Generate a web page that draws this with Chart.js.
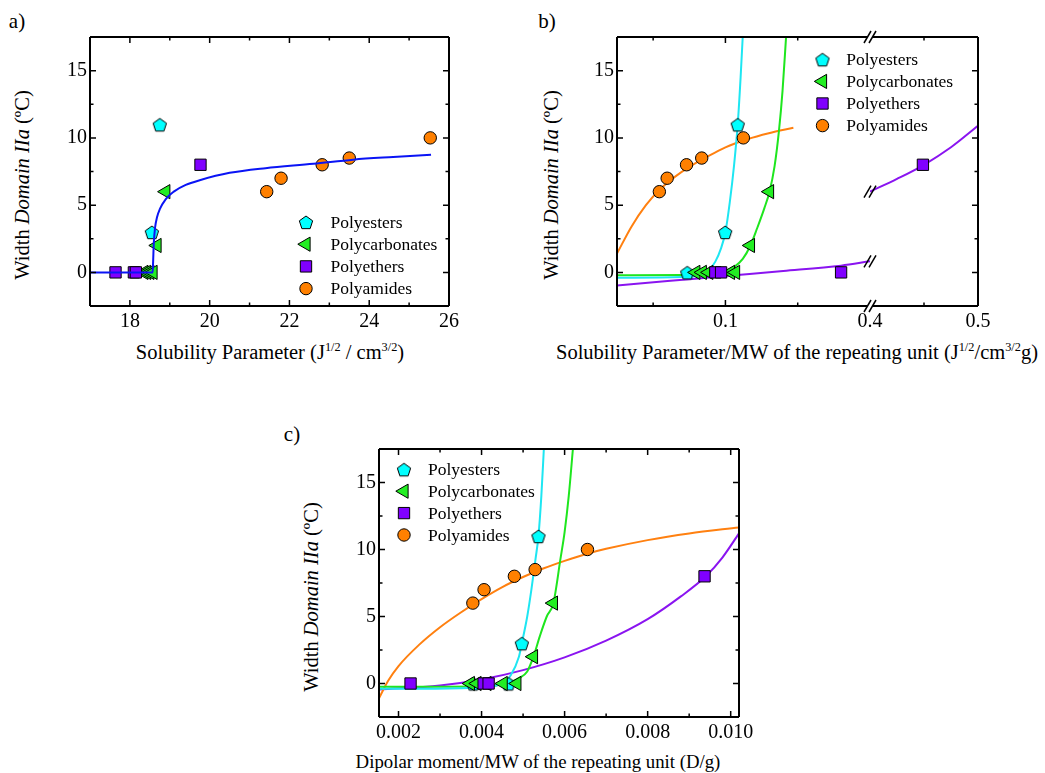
<!DOCTYPE html>
<html>
<head>
<meta charset="utf-8">
<script src="https://cdn.jsdelivr.net/npm/chart.js@4.4.0/dist/chart.umd.min.js"></script>
<style>
  body { margin: 0; background: #fff; width: 1045px; height: 773px; position: relative; overflow: hidden;
         font-family: "Liberation Serif", "Times New Roman", serif; color: #000; }
  canvas { position: absolute; }
  .txt { position: absolute; white-space: nowrap; line-height: 1; font-size: 20.5px; }
  .ytitle { transform: translate(-50%, -50%) rotate(-90deg); }
  .xtitle { transform: translate(-50%, -50%); }
  .plabel { font-size: 21px; transform: translate(-50%, -50%); }
  sup { font-size: 0.6em; vertical-align: 0.6em; line-height: 0; }
</style>
</head>
<body>
<div class="txt plabel" style="left:17px;top:21px">a)</div>
<div class="txt plabel" style="left:547px;top:21px">b)</div>
<div class="txt plabel" style="left:292px;top:434px">c)</div>

<div class="txt ytitle" style="left:22px;top:185px">Width <i>Domain IIa</i> (ºC)</div>
<div class="txt ytitle" style="left:551px;top:185px">Width <i>Domain IIa</i> (ºC)</div>
<div class="txt ytitle" style="left:311px;top:597px">Width <i>Domain IIa</i> (ºC)</div>

<div class="txt xtitle" style="left:270px;top:352px">Solubility Parameter (J<sup>1/2</sup> / cm<sup>3/2</sup>)</div>
<div class="txt xtitle" style="left:797px;top:352px">Solubility Parameter/MW of the repeating unit (J<sup>1/2</sup>/cm<sup>3/2</sup>g)</div>
<div class="txt xtitle" style="left:538px;top:762px;font-size:18.8px">Dipolar moment/MW of the repeating unit (D/g)</div>

<canvas id="chartA" width="480" height="390" style="left:0px;top:0px"></canvas>
<canvas id="chartB" width="515" height="390" style="left:530px;top:0px"></canvas>
<canvas id="chartC" width="480" height="363" style="left:280px;top:410px"></canvas>

<script>
// ---- panel a: width of domain IIa vs solubility parameter ----
const aPolyesters     = [[18.55, 3], [18.75, 11]];
const aPolycarbonates = [[18.35, 0], [18.42, 0], [18.5, 0], [18.58, 0], [18.68, 2], [18.9, 6]];
const aPolyethers     = [[17.64, 0], [18.1, 0], [18.15, 0], [19.77, 8]];
const aPolyamides     = [[21.43, 6], [21.79, 7], [22.82, 8], [23.5, 8.5], [25.53, 10]];
const aFit = [[17, 0], [18.57, 0], [18.58, 0.6], [18.6, 2.2], [18.63, 3.3], [18.68, 4.1], [18.75, 4.7],
              [18.9, 5.45], [19.1, 6.0], [19.4, 6.5], [19.75, 6.85], [20.5, 7.4], [21.4, 7.75],
              [22.6, 8.07], [23.6, 8.38], [24.6, 8.58], [25.55, 8.75]];

// ---- panel b: vs solubility parameter / MW (broken axis) ----
const bPolyesters     = [[0.0736, 0], [0.0998, 3], [0.1085, 11]];
const bPolycarbonates = [[0.0795, 0], [0.084, 0], [0.0885, 0], [0.1035, 0], [0.107, 0], [0.1173, 2], [0.1305, 6]];
const bPolyethers     = [[0.093, 0], [0.097, 0], [0.18, 0]];
const bPolyethersHigh = [[0.449, 8]];
const bPolyamides     = [[0.0543, 6], [0.0597, 7], [0.0731, 8], [0.0836, 8.5], [0.1124, 10]];
const bPolyesterFit = [[0.025, -0.4], [0.07, -0.35], [0.08, -0.25], [0.088, 0.1], [0.093, 0.8], [0.097, 1.8],
                       [0.1, 3.0], [0.103, 5.2], [0.106, 8.0], [0.1085, 11], [0.1105, 14.5], [0.112, 17.6]];
const bPolycarbonateFit = [[0.025, -0.22], [0.07, -0.2], [0.09, -0.1], [0.1, 0.1], [0.106, 0.4], [0.112, 1.0],
                           [0.1173, 2.0], [0.122, 3.3], [0.127, 4.8], [0.1305, 6], [0.134, 7.9], [0.137, 10.5],
                           [0.1395, 13.5], [0.142, 17.6]];
const bPolyamideFit = [[0.025, 1.4], [0.035, 3.4], [0.045, 5.0], [0.055, 6.2], [0.065, 7.1], [0.075, 7.85],
                       [0.085, 8.45], [0.1, 9.3], [0.115, 9.9], [0.13, 10.35], [0.147, 10.75]];
const bPolyetherFit = [[0.025, -0.97], [0.06, -0.65], [0.1, -0.27], [0.14, 0.1], [0.18, 0.5], [0.2, 0.82]];
const bPolyetherFitHigh = [[0.4, 6.0], [0.425, 6.95], [0.45, 8.0], [0.475, 9.3], [0.5, 10.9]];

// ---- panel c: vs dipolar moment / MW ----
const cPolyesters     = [[0.0038, 0], [0.00465, 0], [0.00497, 3], [0.00537, 11]];
const cPolycarbonates = [[0.00373, 0], [0.00389, 0], [0.00413, 0], [0.00452, 0], [0.00485, 0], [0.00525, 2], [0.00573, 6]];
const cPolyethers     = [[0.00229, 0], [0.00405, 0], [0.00417, 0], [0.00937, 8]];
const cPolyamides     = [[0.00379, 6], [0.00406, 7], [0.00479, 8], [0.00529, 8.5], [0.00655, 10]];
const cPolyesterFit = [[0.00153, -0.4], [0.0035, -0.35], [0.0042, -0.2], [0.0045, 0.0], [0.0047, 0.6], [0.0049, 2.0],
                       [0.00497, 3.0], [0.0051, 5.0], [0.0052, 7.0], [0.0053, 9.3], [0.00537, 11], [0.00544, 14], [0.0055, 17.5]];
const cPolycarbonateFit = [[0.00153, -0.25], [0.004, -0.2], [0.0046, 0.0], [0.0049, 0.4], [0.0051, 0.9], [0.00525, 2.0],
                           [0.0054, 3.5], [0.00557, 5.0], [0.00573, 6.0], [0.0059, 9.3], [0.006, 11.3], [0.0061, 14.0], [0.0062, 17.5]];
const cPolyamideFit = [[0.00153, -1.1], [0.00175, 0.2], [0.002, 1.3], [0.0025, 2.9], [0.003, 4.2], [0.0035, 5.3],
                       [0.004, 6.3], [0.0045, 7.2], [0.005, 7.95], [0.0055, 8.6], [0.006, 9.15], [0.0065, 9.65],
                       [0.007, 10.05], [0.008, 10.7], [0.009, 11.2], [0.0102, 11.65]];
const cPolyetherFit = [[0.00153, -0.45], [0.003, -0.15], [0.004, 0.3], [0.005, 1.0], [0.006, 1.95], [0.007, 3.2],
                       [0.008, 4.8], [0.0088, 6.5], [0.0094, 8.0], [0.0098, 9.4], [0.0102, 11.2]];

const FONT = '"Liberation Serif", "Times New Roman", serif';
Chart.defaults.font.family = FONT;
Chart.defaults.color = '#000';

const CYAN = '#00ffff', GREEN = '#22ee22', PURPLE = '#8000ff', ORANGE = '#ff8000';

function pentagon(r, fill) {
  const c = document.createElement('canvas');
  const s = Math.ceil(2 * r + 4);
  c.width = s; c.height = s;
  const g = c.getContext('2d');
  g.beginPath();
  for (let i = 0; i < 5; i++) {
    const a = -Math.PI / 2 + i * 2 * Math.PI / 5;
    const px = s / 2 + r * Math.cos(a), py = s / 2 + 1 + r * Math.sin(a);
    i ? g.lineTo(px, py) : g.moveTo(px, py);
  }
  g.closePath();
  g.fillStyle = fill; g.fill();
  g.lineWidth = 1; g.strokeStyle = '#000'; g.stroke();
  return c;
}

const MARK = {
  polyesters:     { style: pentagon(7, CYAN), fill: CYAN, r: 7, rot: 0, order: 4 },
  polycarbonates: { style: 'triangle', fill: GREEN, r: 8.2, rot: -90, order: 3 },
  polyethers:     { style: 'rect', fill: PURPLE, r: 8, rot: 0, order: 2 },
  polyamides:     { style: 'circle', fill: ORANGE, r: 6.2, rot: 0, order: 1 }
};

function pts(label, data, m, xAxisID) {
  return {
    label, xAxisID: xAxisID || 'x',
    data: data.map(([x, y]) => ({ x, y })),
    showLine: false, order: m.order,
    pointStyle: m.style, pointRadius: m.r, pointHoverRadius: m.r, pointRotation: m.rot,
    pointBackgroundColor: m.fill, pointBorderColor: '#000', pointBorderWidth: 1
  };
}

function curve(data, color, order, xAxisID) {
  return {
    label: '', xAxisID: xAxisID || 'x',
    data: data.map(([x, y]) => ({ x, y })),
    showLine: true, borderColor: color, borderWidth: 2, pointRadius: 0, pointHoverRadius: 0,
    cubicInterpolationMode: 'monotone', order
  };
}

function near(a, b) { return Math.abs(a - b) < 1e-9; }

function yScale(width) {
  return {
    type: 'linear', min: -2.5, max: 17.5,
    grid: { display: false, drawTicks: false }, border: { display: false },
    ticks: { stepSize: 2.5, includeBounds: false, autoSkip: false, maxTicksLimit: 100, padding: 3,
             font: { family: FONT, size: 20 }, color: '#000',
             callback: v => (near(v % 5, 0) ? String(v) : '') },
    afterFit: s => { s.width = width; }
  };
}

function xScale(min, max, step, label, height, extra) {
  return Object.assign({
    type: 'linear', position: 'bottom', min, max,
    grid: { display: false, drawTicks: false }, border: { display: false },
    ticks: { stepSize: step, includeBounds: false, autoSkip: false, maxTicksLimit: 100, maxRotation: 0,
             padding: 4, font: { family: FONT, size: 20 }, color: '#000', callback: label },
    afterFit: s => { s.height = height; }
  }, extra || {});
}

function drawMarker(ctx, ds, x, y) {
  const st = ds.pointStyle, r = ds.pointRadius;
  if (typeof st !== 'string') { ctx.drawImage(st, x - st.width / 2, y - st.height / 2); return; }
  ctx.save();
  ctx.fillStyle = ds.pointBackgroundColor; ctx.strokeStyle = '#000'; ctx.lineWidth = 1;
  ctx.beginPath();
  if (st === 'circle') ctx.arc(x, y, r, 0, Math.PI * 2);
  else if (st === 'rect') { const h = r * Math.SQRT1_2; ctx.rect(x - h, y - h, 2 * h, 2 * h); }
  else {
    let a = (ds.pointRotation || 0) * Math.PI / 180;
    for (let i = 0; i < 3; i++) {
      const px = x + Math.sin(a) * r, py = y - Math.cos(a) * r;
      i ? ctx.lineTo(px, py) : ctx.moveTo(px, py);
      a += 2 * Math.PI / 3;
    }
    ctx.closePath();
  }
  ctx.fill(); ctx.stroke();
  ctx.restore();
}

function slashes(ctx, x, y) {
  ctx.save();
  ctx.strokeStyle = '#000'; ctx.lineWidth = 1.5;
  [-2.5, 2.5].forEach(d => {
    ctx.beginPath();
    ctx.moveTo(x + d - 3.5, y + 6);
    ctx.lineTo(x + d + 3.5, y - 6);
    ctx.stroke();
  });
  ctx.restore();
}

// frame with inward ticks on all four sides, optional axis break, inside legend
const framePlugin = {
  id: 'frame',
  afterDatasetsDraw(chart, args, opts) {
    const { ctx, chartArea: ca } = chart;
    ctx.save();
    ctx.strokeStyle = '#000';
    ctx.lineWidth = 1.5;
    Object.values(chart.scales).forEach(scale => {
      scale.ticks.forEach(t => {
        if (near(t.value, scale.min) || near(t.value, scale.max)) return;
        const p = scale.getPixelForValue(t.value);
        const len = t.label ? 6 : 3.5;
        ctx.beginPath();
        if (scale.isHorizontal()) {
          ctx.moveTo(p, ca.bottom); ctx.lineTo(p, ca.bottom - len);
          ctx.moveTo(p, ca.top); ctx.lineTo(p, ca.top + len);
        } else {
          ctx.moveTo(ca.left, p); ctx.lineTo(ca.left + len, p);
          ctx.moveTo(ca.right, p); ctx.lineTo(ca.right - len, p);
        }
        ctx.stroke();
      });
    });
    ctx.lineWidth = 2;
    ctx.beginPath();
    ctx.moveTo(ca.left, ca.top); ctx.lineTo(ca.left, ca.bottom);
    ctx.moveTo(ca.right, ca.top); ctx.lineTo(ca.right, ca.bottom);
    if (opts.breakScale) {
      const bx = chart.scales[opts.breakScale].left;
      [ca.top, ca.bottom].forEach(y => {
        ctx.moveTo(ca.left, y); ctx.lineTo(bx - 2.5, y);
        ctx.moveTo(bx + 2.5, y); ctx.lineTo(ca.right, y);
      });
    } else {
      [ca.top, ca.bottom].forEach(y => { ctx.moveTo(ca.left, y); ctx.lineTo(ca.right, y); });
    }
    ctx.stroke();
    ctx.restore();

    if (opts.breakScale) {
      const bx = chart.scales[opts.breakScale].left;
      slashes(ctx, bx, ca.top);
      slashes(ctx, bx, ca.bottom);
      (opts.curveBreaks || []).forEach(([idx, which]) => {
        const els = chart.getDatasetMeta(idx).data;
        const el = which === 'last' ? els[els.length - 1] : els[0];
        slashes(ctx, el.x, el.y);
      });
    }

    const lg = opts.legend;
    if (lg) {
      ctx.save();
      ctx.font = '17.5px ' + FONT;
      ctx.textBaseline = 'middle';
      lg.items.forEach((idx, i) => {
        const ds = chart.data.datasets[idx];
        const x = ca.left + lg.x, y = ca.top + lg.y + i * lg.step;
        drawMarker(ctx, ds, x, y);
        ctx.fillStyle = '#000';
        ctx.fillText(ds.label, x + lg.gap, y + 1);
      });
      ctx.restore();
    }
  }
};

const base = {
  responsive: false, animation: false, events: [],
  font: { family: FONT },
  plugins: { legend: { display: false }, tooltip: { enabled: false } }
};

// panel a
new Chart(document.getElementById('chartA'), {
  type: 'scatter',
  data: {
    datasets: [
      pts('Polyesters', aPolyesters, MARK.polyesters),
      pts('Polycarbonates', aPolycarbonates, MARK.polycarbonates),
      pts('Polyethers', aPolyethers, MARK.polyethers),
      pts('Polyamides', aPolyamides, MARK.polyamides),
      curve(aFit, '#0a14f5', 0)
    ]
  },
  options: Object.assign({}, base, {
    layout: { padding: { left: 0, top: 37, right: 31, bottom: 0 } },
    scales: {
      x: xScale(17, 26, 1, v => (near(v % 2, 0) ? String(v) : ''), 84),
      y: yScale(90)
    },
    plugins: Object.assign({}, base.plugins, {
      frame: { legend: { items: [0, 1, 2, 3], x: 216, y: 185, step: 22.2, gap: 24.5 } }
    })
  }),
  plugins: [framePlugin]
});

// panel b
new Chart(document.getElementById('chartB'), {
  type: 'scatter',
  data: {
    datasets: [
      pts('Polyesters', bPolyesters, MARK.polyesters),
      pts('Polycarbonates', bPolycarbonates, MARK.polycarbonates),
      pts('Polyethers', bPolyethers, MARK.polyethers),
      pts('Polyamides', bPolyamides, MARK.polyamides),
      pts('Polyethers', bPolyethersHigh, MARK.polyethers, 'x2'),
      curve(bPolyesterFit, '#1ee6f2', 10),
      curve(bPolycarbonateFit, '#1ee61e', 10),
      curve(bPolyamideFit, '#ff8010', 10),
      curve(bPolyetherFit, '#8a14f0', 10),
      curve(bPolyetherFitHigh, '#8a14f0', 10, 'x2')
    ]
  },
  options: Object.assign({}, base, {
    layout: { padding: { left: 0, top: 37, right: 67, bottom: 0 } },
    scales: {
      x: xScale(0.025, 0.2, 0.05, v => (near(v, 0.1) ? '0.1' : ''), 84, { stack: 'xb', stackWeight: 253 }),
      x2: xScale(0.4, 0.5, 0.05, v => (near(v, 0.45) ? '' : v.toFixed(1)), 84, { stack: 'xb', stackWeight: 108 }),
      y: yScale(87)
    },
    plugins: Object.assign({}, base.plugins, {
      frame: {
        breakScale: 'x2', curveBreaks: [[8, 'last'], [9, 'first']],
        legend: { items: [0, 1, 2, 3], x: 205.5, y: 22.3, step: 22.1, gap: 23.7 }
      }
    })
  }),
  plugins: [framePlugin]
});

// panel c
new Chart(document.getElementById('chartC'), {
  type: 'scatter',
  data: {
    datasets: [
      pts('Polyesters', cPolyesters, MARK.polyesters),
      pts('Polycarbonates', cPolycarbonates, MARK.polycarbonates),
      pts('Polyethers', cPolyethers, MARK.polyethers),
      pts('Polyamides', cPolyamides, MARK.polyamides),
      curve(cPolyesterFit, '#1ee6f2', 10),
      curve(cPolycarbonateFit, '#1ee61e', 10),
      curve(cPolyamideFit, '#ff8010', 10),
      curve(cPolyetherFit, '#8a14f0', 10)
    ]
  },
  options: Object.assign({}, base, {
    layout: { padding: { left: 0, top: 39, right: 21, bottom: 0 } },
    scales: {
      x: xScale(0.00153, 0.0102, 0.001, v => {
        const k = Math.round(v * 1000);
        return (k % 2 === 0 && near(v * 1000, k)) ? v.toFixed(3) : '';
      }, 56),
      y: yScale(99)
    },
    plugins: Object.assign({}, base.plugins, {
      frame: { legend: { items: [0, 1, 2, 3], x: 25, y: 20.3, step: 21.9, gap: 24 } }
    })
  }),
  plugins: [framePlugin]
});
</script>
</body>
</html>
